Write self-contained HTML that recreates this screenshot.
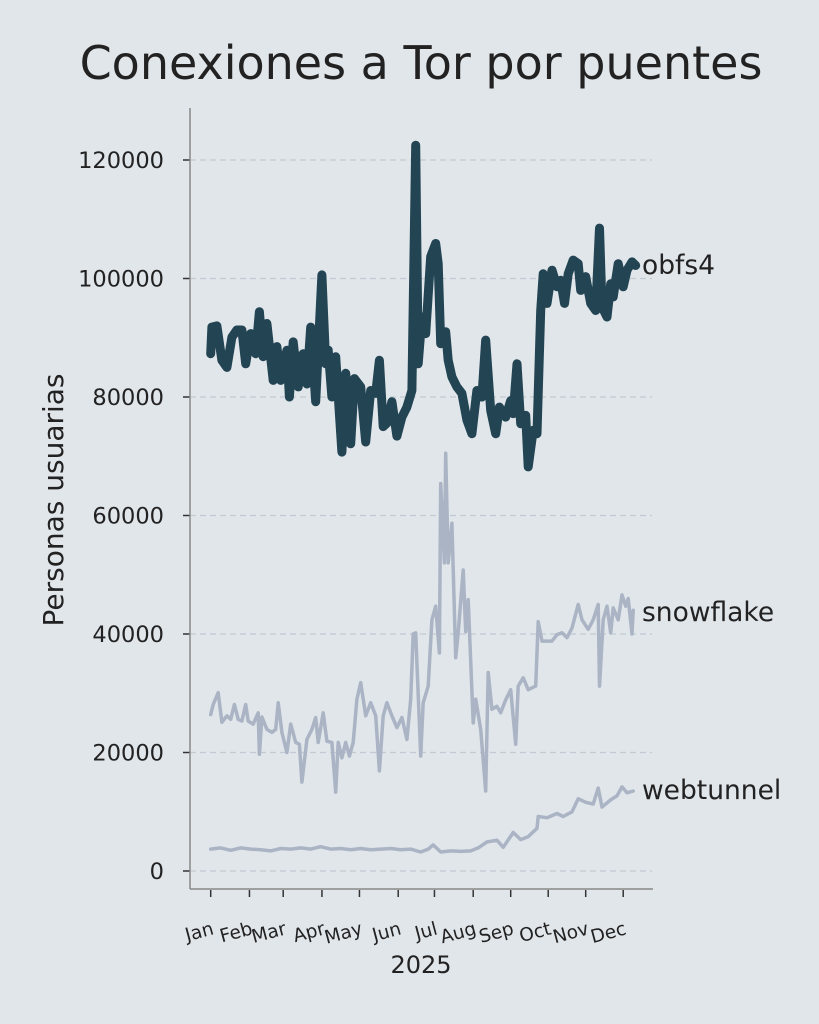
<!DOCTYPE html>
<html><head><meta charset="utf-8"><style>
html,body{margin:0;padding:0;background:#e1e6eb;}
svg{display:block;font-family:"DejaVu Sans","Liberation Sans",sans-serif;}
</style></head><body>
<svg id="chart" width="819" height="1024" viewBox="0 0 819 1024" xmlns="http://www.w3.org/2000/svg">
<rect x="0" y="0" width="819" height="1024" fill="#e1e6eb"/>
<text x="421" y="79" text-anchor="middle" font-size="46" fill="#222">Conexiones a Tor por puentes</text>
<text transform="translate(63,500) rotate(-90)" text-anchor="middle" font-size="28" fill="#222">Personas usuarias</text>
<text x="421" y="973" text-anchor="middle" font-size="24" fill="#222">2025</text>
<g id="grid"></g><g id="axes"></g><g id="series"></g><g id="labels"></g>
</svg>
<script>
const yTicks=[0,20000,40000,60000,80000,100000,120000];
const monthLabels=["Jan","Feb","Mar","Apr","May","Jun","Jul","Aug","Sep","Oct","Nov","Dec"];
const monthDays=[0,31,58,89,119,150,179,210,240,270,300,330];
const obfs4Days=[0,1,5,9,13,17,21,25,28,32,36,39,42,45,50,53,56,61,63,66,70,74,77,80,84,89,92,94,97,100,105,108,112,115,120,124,128,132,135,138,141,145,149,153,157,161,164,166,169,172,176,180,182,184,188,190,193,197,201,205,209,213,217,220,224,228,231,236,240,242,245,248,252,254,258,261,264,266,269,273,277,280,283,286,290,294,296,300,304,308,311,313,317,320,322,326,330,333,337,340];
const obfs4Values=[87300,91800,92000,86200,85000,90100,91300,91300,85600,90700,87300,94400,86800,92400,82800,88500,82800,87900,80000,89300,81700,87300,82200,91800,79200,100600,85600,87900,80000,86800,70700,84000,72100,83100,81700,72400,81100,80600,86200,75000,75600,79200,73400,76600,78300,81100,122500,85600,93500,90700,103700,105900,102500,89000,91000,86200,83400,81700,80600,76100,73800,81100,80000,89600,77700,73800,78300,76600,79400,77200,85600,75500,76900,68200,74400,73800,94600,100800,95800,101400,98600,99700,95800,100800,103100,102500,98000,100300,95800,94600,108500,95200,93500,99100,96900,102500,98600,101400,102800,102200];
const snowDays=[0,2,6,9,13,16,19,22,25,28,30,34,38,39,41,45,49,52,54,57,61,64,68,71,73,77,81,84,86,90,93,97,100,102,105,108,111,114,117,120,124,128,132,135,138,141,145,149,153,157,160,162,164,168,170,174,177,180,183,184,187,188,190,193,196,198,202,204,206,210,212,216,220,222,225,229,232,236,240,244,246,250,254,260,262,265,269,273,277,281,285,289,294,297,302,306,310,311,314,317,320,322,326,329,332,334,337,338];
const snowValues=[26400,28100,30100,25100,26200,25600,28100,25600,25300,28100,25300,24800,26700,19700,26000,23900,23400,23900,28400,23400,20000,24800,21700,21400,15000,22200,23900,25900,21700,26700,21900,21700,13300,21700,19100,21700,19400,21700,29000,31800,26200,28400,26200,16900,26200,28400,26200,24200,25900,22200,29000,40000,40200,19400,28400,31200,42400,44700,36800,65400,52000,70500,52000,58700,36000,40200,50800,40400,45800,25000,29000,23900,13500,33500,27300,27800,26700,28900,30600,21400,31200,32600,30600,31200,42100,38800,38800,38800,39900,40200,39400,41000,45000,42400,40800,42400,45000,31200,42400,44700,40200,44400,42400,46600,44700,46000,40000,44000];
const webDays=[0,8,16,24,32,40,48,56,64,72,80,88,96,104,112,120,128,136,144,152,160,168,174,178,184,192,200,208,214,221,229,234,242,248,254,261,262,269,277,282,289,294,300,306,310,313,320,325,329,333,338];
const webValues=[3700,3900,3500,3900,3700,3600,3400,3800,3700,3900,3700,4100,3700,3800,3600,3800,3600,3700,3800,3600,3700,3200,3700,4400,3200,3400,3300,3400,3900,4900,5200,4000,6500,5300,5800,7200,9200,9000,9700,9200,10000,12200,11600,11300,14000,10800,12000,12700,14200,13200,13500];

const NS="http://www.w3.org/2000/svg";
const xS=d=>210.7+d*1.25;
const yS=v=>871-v*0.005925;
function mk(tag,attrs,parent){const e=document.createElementNS(NS,tag);for(const k in attrs)e.setAttribute(k,attrs[k]);parent.appendChild(e);return e;}
const grid=document.getElementById('grid'),axes=document.getElementById('axes'),series=document.getElementById('series'),labels=document.getElementById('labels');

yTicks.forEach(v=>{
  const g=mk('line',{x1:190,x2:652,y1:yS(v),y2:yS(v),stroke:'#c3cad4','stroke-width':1.3,'stroke-dasharray':'6,4'},grid);
  
  
  const t=mk('line',{x1:183,x2:190,y1:yS(v),y2:yS(v),stroke:'#333','stroke-width':1.5},axes);
  
  
  const l=mk('text',{x:164,y:yS(v)+8,'text-anchor':'end','font-size':22.5,fill:'#222'},axes);
  l.textContent=v;
  
  
});
const ya=mk('line',{x1:190,x2:190,y1:108,y2:889,stroke:'#888','stroke-width':1.5},axes);


const xa=mk('line',{x1:190,x2:653,y1:889,y2:889,stroke:'#888','stroke-width':1.5},axes);


monthDays.forEach((d,i)=>{
  const x=xS(d);
  const t=mk('line',{x1:x,x2:x,y1:890,y2:897,stroke:'#333','stroke-width':1.5},axes);
  
  
  const l=mk('text',{transform:`translate(${x+4},${934}) rotate(-15)`,'text-anchor':'end','font-size':18.5,fill:'#222'},axes);
  l.textContent=monthLabels[i];
  
  
});
function line(days,vals,color,w,name){
  const d=days.map((dd,i)=>(i?'L':'M')+xS(dd).toFixed(1)+','+yS(vals[i]).toFixed(1)).join(' ');
  const p=mk('path',{d:d,fill:'none',stroke:color,'stroke-width':w,'stroke-linejoin':'round','stroke-linecap':'round'},series);
  
  
}
line(webDays,webValues,'#aab4c4',3.5,'webtunnel-line');
line(snowDays,snowValues,'#aab4c4',3.5,'snowflake-line');
line(obfs4Days,obfs4Values,'#234453',9,'obfs4-line');
[["obfs4",274],["snowflake",621],["webtunnel",799]].forEach(([n,y])=>{
  const t=mk('text',{x:642,y:y,'font-size':26.5,fill:'#222'},labels);
  t.textContent=n;
  
  
});
</script>
</body></html>
